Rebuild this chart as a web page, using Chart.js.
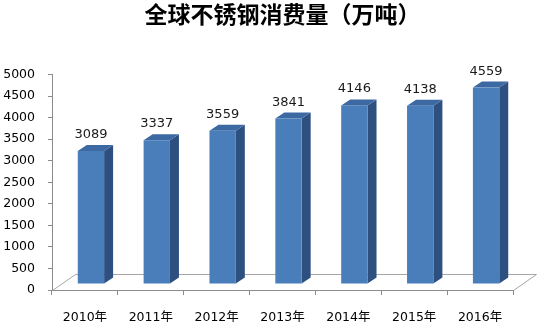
<!DOCTYPE html>
<html>
<head>
<meta charset="utf-8">
<script src="https://cdn.jsdelivr.net/npm/chart.js@4.4.1/dist/chart.umd.min.js"></script>
<style>
  html, body { margin: 0; padding: 0; background: #ffffff; }
  #wrap { width: 539px; height: 327px; }
</style>
</head>
<body>
<div id="wrap"><canvas id="c" width="539" height="327"></canvas></div>
<script>
// ---- data ----
const titleText = '全球不锈钢消费量（万吨）';
const categories = ['2010年', '2011年', '2012年', '2013年', '2014年', '2015年', '2016年'];
const consumption = [3089, 3337, 3559, 3841, 4146, 4138, 4559];
const yTicks = [0, 500, 1000, 1500, 2000, 2500, 3000, 3500, 4000, 4500, 5000];

// ---- style ----
const AXIS_COLOR = '#8c8c8c';
const FRONT = '#4a7ebb';
const TOP = '#3d69a3';
const SIDE = '#2d5080';
const SHIFT = { dx: 6, dy: -6 };   // front face sits inside the floor depth
const DEPTH = { dx: 9, dy: -6 };   // bar depth
const FLOOR = { dx: 23, dy: -16 }; // floor depth
const FONT = '"DejaVu Sans", "Noto Sans CJK SC", sans-serif';

const bar3d = {
  id: 'bar3d',
  beforeDatasetsDraw(chart) {
    const { ctx, chartArea } = chart;
    const l = chartArea.left, r = chartArea.right, b = chartArea.bottom;
    ctx.save();
    ctx.strokeStyle = '#a6a6a6';
    ctx.lineWidth = 1;
    ctx.beginPath();
    ctx.moveTo(l + 0.5, b + 0.5);
    ctx.lineTo(l + FLOOR.dx + 0.5, b + FLOOR.dy + 0.5);
    ctx.lineTo(r + FLOOR.dx + 0.5, b + FLOOR.dy + 0.5);
    ctx.lineTo(r + 0.5, b + 0.5);
    ctx.stroke();
    ctx.restore();
  },
  afterDatasetsDraw(chart) {
    const { ctx } = chart;
    const meta = chart.getDatasetMeta(0);
    const data = chart.data.datasets[0].data;
    ctx.save();
    meta.data.forEach((el, i) => {
      const p = el.getProps(['x', 'y', 'base', 'width'], true);
      const left = p.x - p.width / 2 + SHIFT.dx;
      const right = p.x + p.width / 2 + SHIFT.dx;
      const top = p.y + SHIFT.dy;
      const bottom = p.base + SHIFT.dy;
      // side
      ctx.fillStyle = SIDE;
      ctx.beginPath();
      ctx.moveTo(right, top);
      ctx.lineTo(right + DEPTH.dx, top + DEPTH.dy);
      ctx.lineTo(right + DEPTH.dx, bottom + DEPTH.dy);
      ctx.lineTo(right, bottom);
      ctx.closePath();
      ctx.fill();
      // top
      ctx.fillStyle = TOP;
      ctx.beginPath();
      ctx.moveTo(left, top);
      ctx.lineTo(left + DEPTH.dx, top + DEPTH.dy);
      ctx.lineTo(right + DEPTH.dx, top + DEPTH.dy);
      ctx.lineTo(right, top);
      ctx.closePath();
      ctx.fill();
      // front
      ctx.fillStyle = FRONT;
      ctx.fillRect(left, top, right - left, bottom - top);
      // value label
      ctx.fillStyle = '#1a1a1a';
      ctx.font = '13px ' + FONT;
      ctx.textAlign = 'center';
      ctx.textBaseline = 'alphabetic';
      ctx.fillText(String(data[i]), (left + right) / 2, top + DEPTH.dy - 7);
    });
    ctx.restore();
  }
};

new Chart(document.getElementById('c'), {
  type: 'bar',
  data: {
    labels: categories,
    datasets: [{
      data: consumption,
      backgroundColor: 'rgba(0,0,0,0)',
      borderWidth: 0,
      barPercentage: 0.4,
      categoryPercentage: 1.0
    }]
  },
  options: {
    responsive: false,
    animation: false,
    events: [],
    layout: { padding: { left: 0, right: 26, top: 0, bottom: 0 } },
    plugins: {
      legend: { display: false },
      tooltip: { enabled: false },
      title: {
        display: true,
        fullSize: false,
        text: titleText,
        color: '#000000',
        font: { family: '"Noto Sans CJK SC", sans-serif', size: 23, weight: 'bold' },
        padding: { top: 0, bottom: 47 }
      }
    },
    scales: {
      x: {
        grid: { offset: true, drawOnChartArea: false, tickLength: 5, color: AXIS_COLOR },
        border: { color: AXIS_COLOR },
        ticks: { color: '#000000', font: { family: FONT, size: 12.5 }, padding: 15, maxRotation: 0 },
        afterFit(scale) { scale.height = 37; }
      },
      y: {
        min: 0,
        max: 5000,
        afterBuildTicks(scale) { scale.ticks = yTicks.map(v => ({ value: v })); },
        grid: { drawOnChartArea: false, tickLength: 4, color: AXIS_COLOR },
        border: { color: AXIS_COLOR },
        ticks: { color: '#000000', font: { family: FONT, size: 12.5 }, padding: 13, callback: v => String(v) },
        afterFit(scale) { scale.width = 52; }
      }
    }
  },
  plugins: [bar3d]
});
</script>
</body>
</html>
